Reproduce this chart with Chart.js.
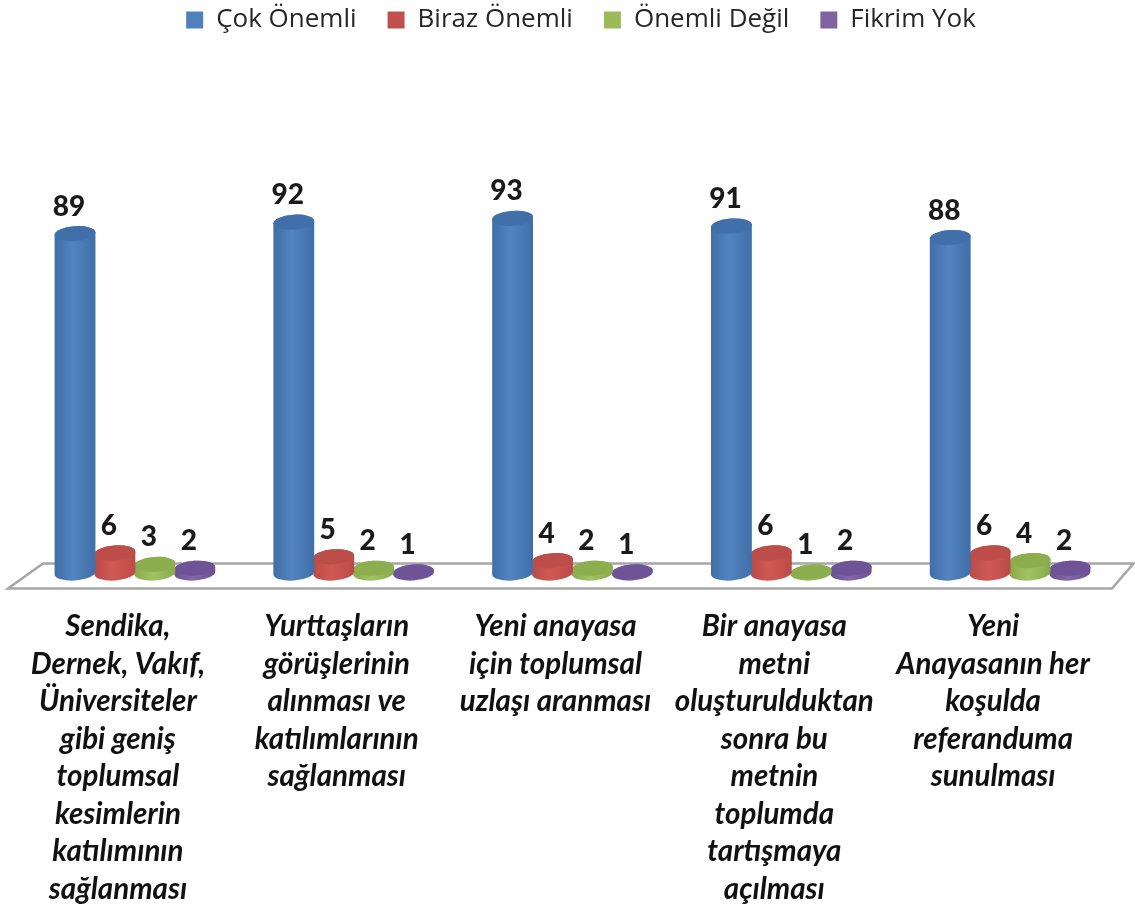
<!DOCTYPE html>
<html>
<head>
<meta charset="utf-8">
<style>
  html, body { margin: 0; padding: 0; background: #fff; }
  canvas { display: block; }
</style>
<script src="https://cdn.jsdelivr.net/npm/chart.js@4"></script>
</head>
<body>
<canvas id="chart" width="1135" height="904"></canvas>
<script>
// Data
const categories = [
    ['Sendika,', 'Dernek, Vakıf,', 'Üniversiteler', 'gibi geniş', 'toplumsal', 'kesimlerin', 'katılımının', 'sağlanması'],
    ['Yurttaşların', 'görüşlerinin', 'alınması ve', 'katılımlarının', 'sağlanması'],
    ['Yeni anayasa', 'için toplumsal', 'uzlaşı aranması'],
    ['Bir anayasa', 'metni', 'oluşturulduktan', 'sonra bu', 'metnin', 'toplumda', 'tartışmaya', 'açılması'],
    ['Yeni', 'Anayasanın her', 'koşulda', 'referanduma', 'sunulması']
];
const cokOnemli = [89, 92, 93, 91, 88];
const birazOnemli = [6, 5, 4, 6, 6];
const onemliDegil = [3, 2, 2, 1, 4];
const fikrimYok = [2, 1, 1, 2, 2];

// body colours for each series: edge, highlight, top
const shades = {
    'Çok Önemli': ['#3f6ea8', '#5484bf', '#416fa9'],
    'Biraz Önemli': ['#bb4a46', '#cf5a55', '#bd4d49'],
    'Önemli Değil': ['#88aa4c', '#a3c362', '#8cae4e'],
    'Fikrim Yok': ['#6b4f92', '#8468a8', '#6f5397']
};

const TILT = -0.07;

function drawCylinder(ctx, bar, baseY, colors) {
    const rx = bar.width / 2 + 0.5;
    const ry = 7.5;
    const top = Math.min(bar.y, baseY - 1);
    const grad = ctx.createLinearGradient(bar.x - rx, 0, bar.x + rx, 0);
    grad.addColorStop(0, colors[0]);
    grad.addColorStop(0.45, colors[1]);
    grad.addColorStop(1, colors[0]);

    ctx.fillStyle = grad;
    ctx.beginPath();
    ctx.ellipse(bar.x, baseY, rx, ry, TILT, 0, Math.PI);
    ctx.ellipse(bar.x, top, rx, ry, TILT, Math.PI, 0);
    ctx.closePath();
    ctx.fill();

    ctx.fillStyle = colors[2];
    ctx.beginPath();
    ctx.ellipse(bar.x, top, rx, ry, TILT, 0, Math.PI * 2);
    ctx.fill();
}

// Legend sits right of the plot centre in the original
const legendShift = {
    id: 'legendShift',
    afterLayout(chart) {
        chart.legend.left += 8.5;
        chart.legend.right += 8.5;
    }
};

// Grey floor under the bars, follows the chart area
const floorPlugin = {
    id: 'floor',
    beforeDatasetsDraw(chart) {
        const ctx = chart.ctx;
        const a = chart.chartArea;
        const front = a.bottom + 12.5;
        const back = a.bottom - 12.5;
        ctx.save();
        ctx.strokeStyle = '#a6a6a6';
        ctx.lineWidth = 2.5;
        ctx.beginPath();
        ctx.moveTo(a.left + 17.5, back);
        ctx.lineTo(a.right + 14, back);
        ctx.lineTo(a.right - 7.5, front);
        ctx.lineTo(a.left - 17.5, front);
        ctx.closePath();
        ctx.stroke();
        ctx.restore();
    }
};

// Bars are drawn as cylinders from the positions the library computed
const cylinderPlugin = {
    id: 'cylinders',
    beforeDatasetDraw(chart, args) {
        const ctx = chart.ctx;
        const baseY = chart.chartArea.bottom - 3;
        const colors = shades[chart.data.datasets[args.index].label];
        ctx.save();
        args.meta.data.forEach(bar => drawCylinder(ctx, bar, baseY, colors));
        ctx.restore();
        return false;
    },
    afterDatasetsDraw(chart) {
        const ctx = chart.ctx;
        ctx.save();
        ctx.font = '900 28px Lato';
        ctx.fillStyle = '#1a1a1a';
        ctx.textAlign = 'center';
        ctx.textBaseline = 'middle';
        chart.data.datasets.forEach((ds, i) => {
            chart.getDatasetMeta(i).data.forEach((bar, j) => {
                ctx.fillText(ds.data[j], bar.x - 6, bar.y - 27);
            });
        });
        ctx.restore();
    }
};

new Chart(document.getElementById('chart').getContext('2d'), {
    type: 'bar',
    data: {
        labels: categories,
        datasets: [
            { label: 'Çok Önemli', data: cokOnemli, backgroundColor: '#4f81bd' },
            { label: 'Biraz Önemli', data: birazOnemli, backgroundColor: '#c0504d' },
            { label: 'Önemli Değil', data: onemliDegil, backgroundColor: '#9bbb59' },
            { label: 'Fikrim Yok', data: fikrimYok, backgroundColor: '#8064a2' }
        ]
    },
    options: {
        responsive: false,
        animation: false,
        layout: { padding: { top: -24, left: 25.5, right: 15.5, bottom: 0 } },
        datasets: { bar: { barPercentage: 1, categoryPercentage: 0.73 } },
        plugins: {
            tooltip: { enabled: false },
            legend: {
                position: 'top',
                labels: {
                    boxWidth: 17,
                    boxHeight: 17,
                    padding: 31,
                    color: '#262626',
                    font: { family: 'Open Sans', size: 26 }
                }
            }
        },
        scales: {
            x: {
                grid: { display: false },
                border: { display: false },
                afterFit(scale) { scale.height = 328; },
                ticks: {
                    autoSkip: false,
                    maxRotation: 0,
                    padding: 24,
                    labelOffset: -17,
                    color: '#111',
                    font: { family: 'Lato', size: 29.5, weight: 'bold', style: 'italic', lineHeight: 1.27 }
                }
            },
            y: {
                display: false,
                min: 0,
                max: 138.6
            }
        }
    },
    plugins: [legendShift, floorPlugin, cylinderPlugin]
});
</script>
</body>
</html>
